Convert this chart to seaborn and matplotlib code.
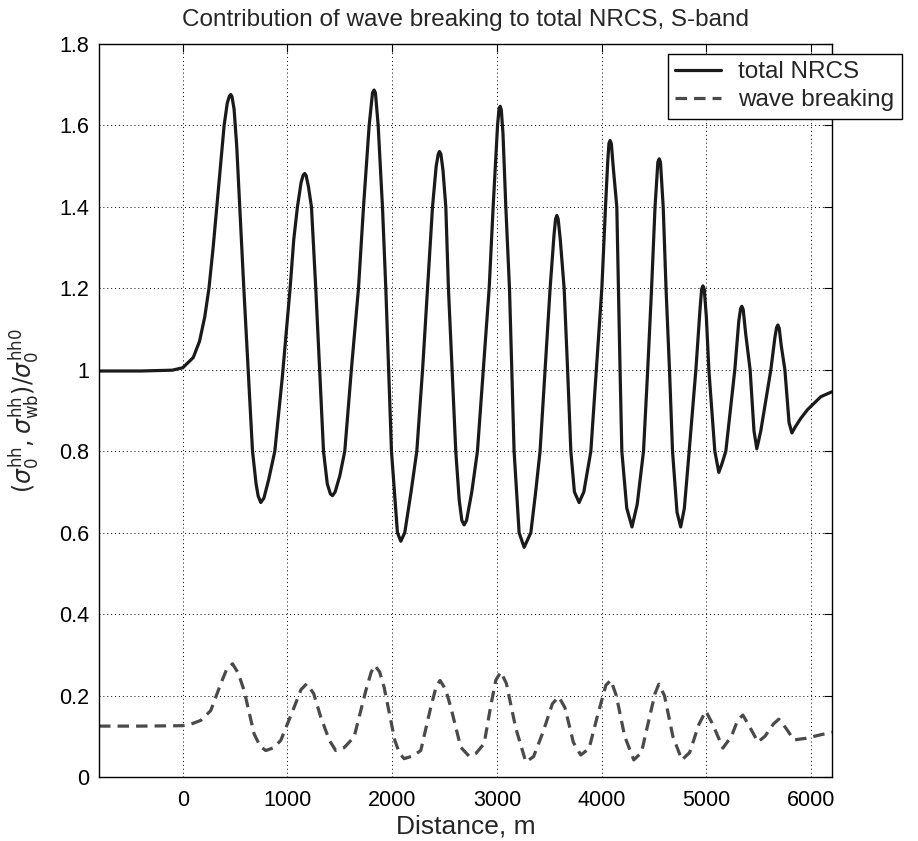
import numpy as np
import pandas as pd
import matplotlib
matplotlib.use("Agg")
import matplotlib.pyplot as plt
import seaborn as sns

# ---- data ----
nrcs_x = [-800, -400, -100, 0, 100, 160, 210, 250, 290, 325, 360, 395, 425, 445, 458, 470, 490, 515, 544, 583, 625,
          666, 700, 720, 745, 775, 820, 879, 950, 1025, 1060, 1095, 1130, 1150, 1165, 1178, 1200, 1229, 1270, 1307,
          1344, 1380, 1410, 1430, 1455, 1500, 1547, 1610, 1678, 1726, 1780, 1812, 1827, 1840, 1866, 1907, 1939, 1966,
          1993, 2050, 2082, 2120, 2180, 2235, 2290, 2337, 2385, 2420, 2440, 2452, 2465, 2485, 2512, 2537, 2572,
          2607, 2640, 2665, 2687, 2710, 2760, 2814, 2870, 2926, 2964, 3006, 3020, 3031, 3042, 3058, 3085, 3120, 3142,
          3164, 3212, 3260, 3324, 3370, 3412, 3460, 3508, 3545, 3560, 3572, 3585, 3605, 3642, 3675,
          3706, 3740, 3785, 3830, 3897, 3950, 4002, 4037, 4058, 4070, 4081, 4093, 4110, 4145, 4160, 4176,
          4193, 4240, 4290, 4340, 4400, 4440, 4477, 4510, 4537, 4550, 4562, 4588, 4615, 4648,
          4677, 4720, 4755, 4790, 4836, 4900, 4940, 4955, 4967, 4980, 5000, 5024, 5081, 5119, 5150, 5186,
          5272, 5310, 5327, 5339, 5352, 5375, 5418, 5455, 5482, 5520, 5616, 5655, 5671, 5683, 5696, 5715, 5750, 5790,
          5817, 5850, 5900, 5966, 6094, 6200]
nrcs_y = [0.997, 0.997, 0.999, 1.005, 1.03, 1.07, 1.13, 1.20, 1.30, 1.40, 1.50, 1.60, 1.655, 1.672, 1.676, 1.671, 1.640, 1.55, 1.40, 1.20, 1.00,
          0.80, 0.72, 0.69, 0.674, 0.685, 0.73, 0.80, 0.98, 1.20, 1.32, 1.40, 1.460, 1.478, 1.482, 1.477, 1.450, 1.40, 1.20, 1.00,
          0.80, 0.72, 0.695, 0.691, 0.70, 0.74, 0.80, 1.00, 1.20, 1.40, 1.60, 1.680, 1.687, 1.680, 1.60, 1.40, 1.20, 1.00,
          0.80, 0.60, 0.579, 0.60, 0.70, 0.80, 1.00, 1.20, 1.40, 1.500, 1.530, 1.536, 1.530, 1.490, 1.40, 1.20, 1.00,
          0.80, 0.68, 0.63, 0.619, 0.63, 0.70, 0.80, 1.00, 1.20, 1.40, 1.60, 1.640, 1.647, 1.638, 1.58, 1.40, 1.20, 1.00,
          0.80, 0.60, 0.564, 0.60, 0.70, 0.80, 1.00, 1.20, 1.33, 1.370, 1.379, 1.370, 1.32, 1.20, 1.00,
          0.80, 0.70, 0.674, 0.70, 0.80, 1.00, 1.20, 1.40, 1.510, 1.556, 1.563, 1.555, 1.50, 1.40, 1.20, 1.00,
          0.80, 0.66, 0.614, 0.67, 0.80, 1.00, 1.20, 1.40, 1.510, 1.518, 1.510, 1.40, 1.20, 1.00,
          0.80, 0.65, 0.614, 0.66, 0.80, 1.00, 1.15, 1.198, 1.206, 1.198, 1.13, 1.00, 0.80, 0.748, 0.77, 0.80,
          1.00, 1.12, 1.150, 1.156, 1.148, 1.09, 1.00, 0.85, 0.806, 0.85, 1.00, 1.08, 1.104, 1.11, 1.102, 1.06, 1.00, 0.87,
          0.845, 0.86, 0.88, 0.902, 0.934, 0.946]

wb_x = [-800, -400, 0, 80, 172, 267, 363, 420, 475, 530, 586, 681, 740, 793, 870, 936, 1063, 1130, 1184,
        1250, 1318, 1400, 1461, 1540, 1636, 1748, 1800, 1834, 1880, 1923, 2025, 2070, 2114, 2200, 2273,
        2368, 2420, 2457, 2510, 2560, 2655, 2735, 2800, 2878, 2942, 2990, 3037, 3090, 3180, 3276, 3350,
        3440, 3530, 3591, 3650, 3730, 3801, 3880, 3960, 4040, 4088, 4140, 4220, 4307, 4380, 4460, 4510,
        4546, 4600, 4680, 4766, 4840, 4930, 4995, 5060, 5158, 5240, 5300, 5349, 5410, 5492, 5560, 5640,
        5692, 5760, 5836, 5950, 6080, 6200]
wb_y = [0.125, 0.125, 0.126, 0.130, 0.139, 0.163, 0.229, 0.265, 0.278, 0.255, 0.212, 0.106, 0.075, 0.065, 0.072, 0.090, 0.171, 0.215, 0.229,
        0.205, 0.147, 0.090, 0.065, 0.072, 0.098, 0.212, 0.258, 0.274, 0.258, 0.220, 0.090, 0.058, 0.045, 0.052, 0.065,
        0.171, 0.222, 0.237, 0.215, 0.171, 0.073, 0.051, 0.058, 0.082, 0.176, 0.238, 0.258, 0.230, 0.120, 0.037, 0.050,
        0.110, 0.180, 0.197, 0.170, 0.085, 0.054, 0.070, 0.150, 0.225, 0.238, 0.200, 0.100, 0.042, 0.060, 0.150, 0.205,
        0.228, 0.200, 0.100, 0.042, 0.060, 0.130, 0.162, 0.130, 0.071, 0.100, 0.140, 0.152, 0.125, 0.086, 0.100, 0.130,
        0.142, 0.120, 0.091, 0.095, 0.103, 0.110]

x_ticks = [0, 1000, 2000, 3000, 4000, 5000, 6000]
y_ticks = [0, 0.2, 0.4, 0.6, 0.8, 1.0, 1.2, 1.4, 1.6, 1.8]
y_tick_labels = ["0", "0.2", "0.4", "0.6", "0.8", "1", "1.2", "1.4", "1.6", "1.8"]
series_names = ["total NRCS", "wave breaking"]

# ---- style ----
sns.set_theme(style="white")
plt.rcParams['font.family'] = ['Liberation Sans', 'DejaVu Sans']
plt.rcParams['mathtext.fontset'] = 'dejavusans'

fig = plt.figure(figsize=(9.18, 8.41), dpi=100)
ax = fig.add_axes([99/918, 64/841, (832-99)/918, (777-44)/841])

df_nrcs = pd.DataFrame({"x": nrcs_x, "y": nrcs_y})
df_wb = pd.DataFrame({"x": wb_x, "y": wb_y})

sns.lineplot(data=df_nrcs, x="x", y="y", ax=ax, color="#1a1a1a", linewidth=2.3,
             label=series_names[0], sort=False)
sns.lineplot(data=df_wb, x="x", y="y", ax=ax, color="#4a4a4a", linewidth=2.3,
             linestyle=(0, (3.6, 2.2)), label=series_names[1], sort=False)

ax.set_xlim(-800, 6200)
ax.set_ylim(0, 1.8)
ax.set_xticks(x_ticks)
ax.set_xticklabels([str(t) for t in x_ticks])
ax.set_yticks(y_ticks)
ax.set_yticklabels(y_tick_labels)

ax.grid(True, color="black", linestyle=(0, (1, 3)), linewidth=0.7)
for s in ax.spines.values():
    s.set_color("black")
    s.set_linewidth(1.0)
ax.tick_params(direction="in", length=6, width=0.8, top=True, right=True,
               labelsize=15.5, colors="black")
ax.tick_params(axis="x", pad=9)
ax.tick_params(axis="y", pad=7)

ax.set_xlabel("Distance, m", fontsize=19, labelpad=3)
ax.set_ylabel(r"$(\sigma_0^{\rm hh},\sigma_{\rm wb}^{\rm hh})/\sigma_0^{\rm hh0}$", fontsize=17, labelpad=12)
ax.set_title("Contribution of wave breaking to total NRCS, S-band", fontsize=17.5, pad=13)

leg = ax.legend(loc="upper left", bbox_to_anchor=(668/918, 1-54/841), bbox_transform=fig.transFigure,
                frameon=True, fancybox=False, framealpha=1, edgecolor="black", fontsize=17.5,
                borderaxespad=0, handlelength=1.9, handletextpad=0.7, labelspacing=0.25, borderpad=0.3)
leg.get_frame().set_linewidth(1.0)

fig.savefig("out.png", dpi=100, facecolor="white")
